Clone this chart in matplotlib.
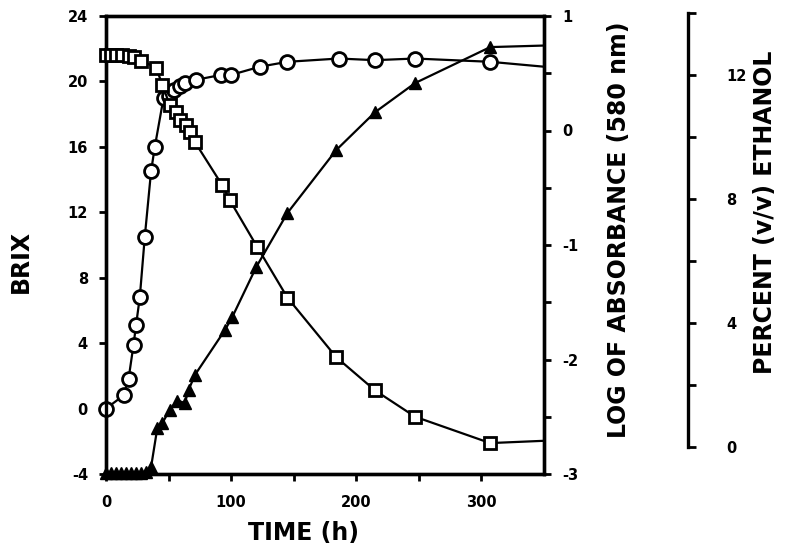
import matplotlib
matplotlib.use('Agg')
import matplotlib.pyplot as plt

plt.rcParams['font.family'] = 'DejaVu Sans'
plt.rcParams['font.weight'] = 'bold'
plt.rcParams['axes.unicode_minus'] = False

# BRIX (open circles)
t_brix = [0, 14, 18, 22, 24, 27, 31, 36, 39, 46, 50, 54, 59, 63, 72, 92, 100, 123, 145, 186, 215, 247, 307, 350]
brix = [0, 0.8, 1.8, 3.9, 5.1, 6.8, 10.5, 14.5, 16.0, 19.0, 19.1, 19.5, 19.7, 19.9, 20.1, 20.4, 20.4,
        20.9, 21.2, 21.4, 21.3, 21.4, 21.2, 20.9]

# log of absorbance at 580 nm (open squares)
t_abs = [0, 4, 8, 13, 18, 22, 28, 40, 45, 51, 56, 59, 64, 67, 71, 93, 99, 121, 145, 184, 215, 247, 307, 350]
log_abs = [0.66, 0.66, 0.66, 0.66, 0.65, 0.64, 0.61, 0.55, 0.40, 0.22, 0.16, 0.09, 0.05, -0.01, -0.10,
           -0.48, -0.61, -1.02, -1.46, -1.98, -2.27, -2.50, -2.73, -2.71]

# percent (v/v) ethanol (filled triangles)
t_eth = [0, 4, 8, 12, 16, 20, 24, 28, 32, 36, 41, 45, 51, 57, 63, 66, 71, 95, 101, 120, 145, 184, 215, 247, 307, 350]
ethanol = [-0.84, -0.84, -0.84, -0.84, -0.84, -0.84, -0.84, -0.84, -0.8, -0.65, 0.61, 0.77, 1.2, 1.5, 1.42,
           1.84, 2.32, 3.77, 4.2, 5.8, 7.55, 9.58, 10.8, 11.74, 12.9, 12.95]

W, H = 806, 555
fig = plt.figure(figsize=(W / 100, H / 100), dpi=100)

# main frame in pixels
x0, x1, y0, y1 = 106, 544, 16, 474
ax = fig.add_axes([x0 / W, 1 - y1 / H, (x1 - x0) / W, (y1 - y0) / H])
ax2 = ax.twinx()
ax3 = ax.twinx()

lw = 1.6
ax.plot(t_brix, brix, color='black', lw=lw, marker='o', ms=10, mfc='white', mec='black', mew=2,
        markevery=slice(0, -1), clip_on=False, zorder=3)
ax2.plot(t_abs, log_abs, color='black', lw=lw, marker='s', ms=9, mfc='white', mec='black', mew=2,
         markevery=slice(0, -1), clip_on=False, zorder=3)
ax3.plot(t_eth, ethanol, color='black', lw=lw, marker='^', ms=9, mfc='black', mec='black',
         markevery=slice(0, -1), clip_on=False, zorder=3)

ax.set_xlim(0, 350)
ax.set_ylim(-4, 24)
ax2.set_ylim(-3, 1)

# ethanol scale: 0 at y=447 px, 14 at y=13 px
e_bot, e_top = 447, 13
ppu = (e_bot - e_top) / 14
ax3.set_ylim(-(y1 - e_bot) / ppu, (e_bot - y0) / ppu)
ax3.axis('off')

for a in (ax, ax2):
    for s in a.spines.values():
        s.set_linewidth(2.4)

ax.set_xticks([0, 100, 200, 300])
ax.set_xticks([50, 150, 250], minor=True)
ax.set_yticks([-4, 0, 4, 8, 12, 16, 20, 24])
ax2.set_yticks([-3, -2, -1, 0, 1])
ax2.set_yticks([-2.5, -1.5, -0.5, 0.5], minor=True)

ax.tick_params(axis='x', which='both', direction='out', length=5, width=2, pad=10, labelsize=10.5)
ax.tick_params(axis='y', which='both', direction='out', length=5, width=2, pad=8, labelsize=10.5)
ax2.tick_params(axis='y', which='both', direction='out', length=5, width=2, pad=8, labelsize=10.5)

ax.set_xlabel('TIME (h)', fontsize=17, fontweight='bold')
ax.xaxis.set_label_coords((304 - x0) / (x1 - x0), (y1 - 521) / (y1 - y0))
ax.set_ylabel('BRIX', fontsize=17, fontweight='bold')
ax.yaxis.set_label_coords((33 - x0) / (x1 - x0), (y1 - 261) / (y1 - y0))
ax2.set_ylabel('LOG OF ABSORBANCE (580 nm)', fontsize=17, fontweight='bold')
ax2.yaxis.set_label_coords((607 - x0) / (x1 - x0), (y1 - 230) / (y1 - y0))

# separate ethanol scale
axe = fig.add_axes([688 / W, 1 - e_bot / H, 0.0005, (e_bot - e_top) / H])
axe.set_ylim(0, 14)
axe.patch.set_visible(False)
for k in ('left', 'top', 'bottom'):
    axe.spines[k].set_visible(False)
axe.spines['right'].set_linewidth(2.4)
axe.xaxis.set_visible(False)
axe.yaxis.tick_right()
axe.set_yticks([0, 4, 8, 12])
axe.set_yticks([2, 6, 10, 14], minor=True)
axe.tick_params(axis='y', which='both', direction='out', length=6, width=2, pad=21, labelsize=10.5)

fig.text(765 / W, 1 - 212 / H, 'PERCENT (v/v) ETHANOL', rotation=90, ha='center', va='center',
         fontsize=17, fontweight='bold')

fig.savefig('out.png', dpi=100, facecolor='white')
